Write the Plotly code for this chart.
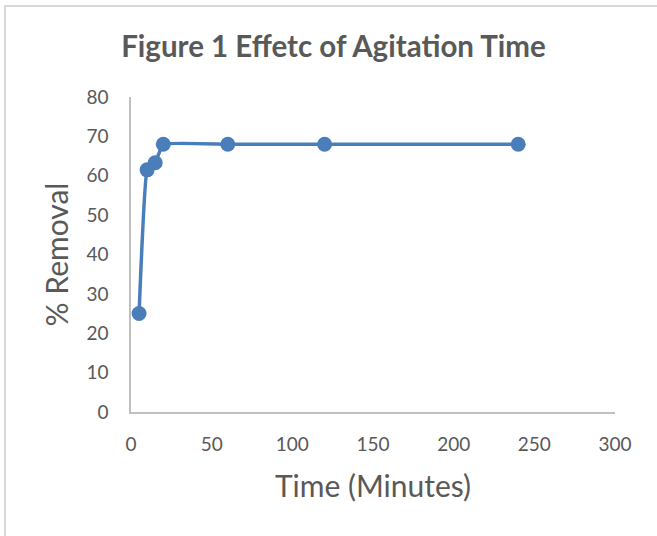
import plotly.graph_objects as go

time_min = [5, 10, 15, 20, 60, 120, 240]
removal = [25, 61.5, 63.3, 68, 68, 68, 68]
x_ticks = [0, 50, 100, 150, 200, 250, 300]
y_ticks = [0, 10, 20, 30, 40, 50, 60, 70, 80]

W, H = 657, 536
L, R, T, B = 131, 42, 97, 124
pw, ph = W - L - R, H - T - B

def px(x):
    return (x - L) / pw

def py(y):
    return (H - B - y) / ph

fig = go.Figure()
fig.add_trace(go.Scatter(
    x=time_min, y=removal, mode="lines+markers",
    line=dict(color="#4A7EBB", width=3.5, shape="spline", smoothing=0.3),
    marker=dict(color="#4A7EBB", size=15),
    showlegend=False,
))

font_fam = "Lato, 'Open Sans', sans-serif"
fig.update_layout(
    width=W, height=H,
    margin=dict(l=L, r=R, t=T, b=B),
    paper_bgcolor="white", plot_bgcolor="white",
    title=dict(text="<b>Figure 1 Effetc of Agitation Time</b>", x=(122 + 545) / 2 / W, xanchor="center",
               y=1 - 47 / H, yanchor="middle",
               font=dict(family=font_fam, size=29.5, color="#595959")),
    font=dict(family=font_fam, color="#595959"),
    xaxis=dict(range=[0, 300], tickvals=x_ticks, showgrid=False, zeroline=False,
               showline=True, linecolor="#BFBFBF", linewidth=1.5,
               ticks="outside", ticklen=14, tickcolor="rgba(0,0,0,0)",
               tickfont=dict(size=19, color="#595959"),
               title=dict(text="Time (Minutes)", font=dict(size=30, color="#595959"), standoff=22)),
    yaxis=dict(range=[0, 80], tickvals=y_ticks, showgrid=False, zeroline=False,
               showline=True, linecolor="#BFBFBF", linewidth=1.5,
               ticks="outside", ticklen=17, tickcolor="rgba(0,0,0,0)",
               tickfont=dict(size=19, color="#595959"),
               title=dict(text="% Removal", font=dict(size=30, color="#595959"), standoff=9)),
    shapes=[
        dict(type="line", xref="paper", yref="paper", x0=px(4), x1=px(657), y0=py(6), y1=py(6),
             line=dict(color="#D9D9D9", width=2), layer="above"),
        dict(type="line", xref="paper", yref="paper", x0=px(5), x1=px(5), y0=py(6), y1=py(536),
             line=dict(color="#D9D9D9", width=2), layer="above"),
    ],
)

fig.write_html("out.html", config={"displayModeBar": False},
               post_script="document.body.style.margin='0';")
